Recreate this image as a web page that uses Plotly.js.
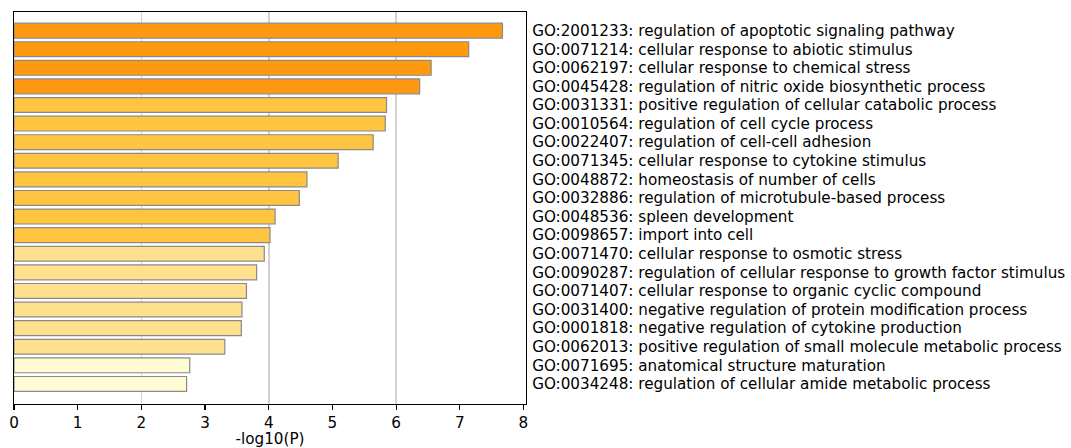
<!DOCTYPE html>
<html>
<head>
<meta charset="utf-8">
<script src="https://cdn.plot.ly/plotly-3.0.1.min.js"></script>
<style>html,body{margin:0;padding:0;background:#fff;}#chart{width:1071px;height:448px;}</style>
</head>
<body>
<div id="chart"></div>
<script>
const goIds = ["GO:2001233","GO:0071214","GO:0062197","GO:0045428","GO:0031331","GO:0010564","GO:0022407","GO:0071345","GO:0048872","GO:0032886","GO:0048536","GO:0098657","GO:0071470","GO:0090287","GO:0071407","GO:0031400","GO:0001818","GO:0062013","GO:0071695","GO:0034248"];
const terms = ["regulation of apoptotic signaling pathway","cellular response to abiotic stimulus","cellular response to chemical stress","regulation of nitric oxide biosynthetic process","positive regulation of cellular catabolic process","regulation of cell cycle process","regulation of cell-cell adhesion","cellular response to cytokine stimulus","homeostasis of number of cells","regulation of microtubule-based process","spleen development","import into cell","cellular response to osmotic stress","regulation of cellular response to growth factor stimulus","cellular response to organic cyclic compound","negative regulation of protein modification process","negative regulation of cytokine production","positive regulation of small molecule metabolic process","anatomical structure maturation","regulation of cellular amide metabolic process"];
const negLogP = [7.67,7.14,6.55,6.37,5.85,5.83,5.64,5.09,4.60,4.48,4.10,4.02,3.93,3.81,3.65,3.58,3.57,3.31,2.76,2.71];
const tier = [1,1,1,1,2,2,2,2,2,2,2,2,3,3,3,3,3,3,4,4];
const palette = {1:"#FF9A10",2:"#FFC440",3:"#FFE08F",4:"#FFFCD3"};
const xTicks = [0,1,2,3,4,5,6,7,8];

const idx = negLogP.map((_, i) => i);
const labels = goIds.map((g, i) => g + ": " + terms[i]);
const font = {family: "DejaVu Sans, sans-serif", size: 15.2, color: "#000"};

const trace = {
  type: "bar", orientation: "h",
  x: negLogP, y: idx, width: 0.8,
  marker: {color: tier.map(t => palette[t]), line: {color: "#8a8a8a", width: 1.2}},
  hoverinfo: "x+y", showlegend: false
};

const layout = {
  width: 1071, height: 448,
  margin: {l: 14, r: 545.3, t: 12.3, b: 44},
  paper_bgcolor: "#fff", plot_bgcolor: "#fff",
  font: font,
  xaxis: {
    range: [0, 8.04], tickvals: [2,4,6], showticklabels: false, ticks: "",
    showgrid: true, gridcolor: "#d2d2d2", gridwidth: 1.6,
    showline: true, linecolor: "#000", linewidth: 1.1, mirror: true,
    zeroline: false, layer: "above traces", fixedrange: true
  },
  xaxis2: {
    overlaying: "x", anchor: "y", side: "bottom",
    range: [0, 8.04], tickvals: xTicks, ticktext: xTicks.map(String),
    ticks: "outside", ticklen: 4.5, tickwidth: 1.1, tickcolor: "#000",
    showgrid: false, zeroline: false, showline: false,
    tickfont: font,
    title: {text: "-log10(P)", font: font, standoff: 3}
  },
  yaxis: {
    range: [20.08, -1.0], side: "right",
    tickvals: idx, ticktext: labels, ticks: "", ticklabelstandoff: 2,
    showgrid: false, zeroline: false,
    showline: true, linecolor: "#000", linewidth: 1.1, mirror: true,
    tickfont: font, fixedrange: true
  },
  bargap: 0.2
};

const helper = {type: "scatter", x: [0], y: [0], xaxis: "x2", yaxis: "y", mode: "markers", marker: {opacity: 0}, hoverinfo: "skip", showlegend: false};

Plotly.newPlot("chart", [trace, helper], layout, {displayModeBar: false, staticPlot: true});
</script>
</body>
</html>
